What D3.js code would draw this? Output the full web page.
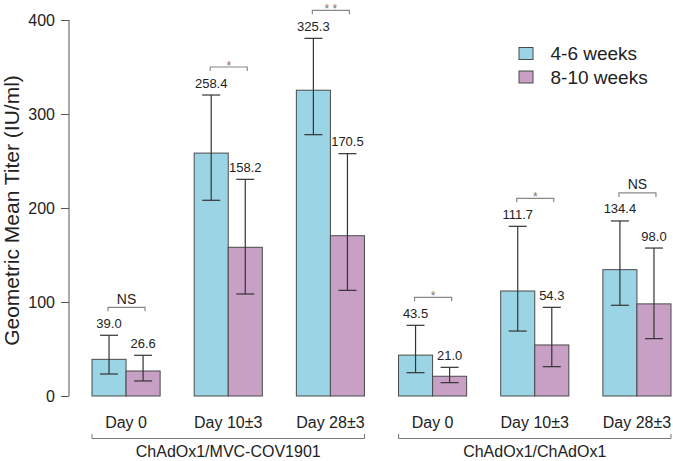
<!DOCTYPE html>
<html>
<head>
<meta charset="utf-8">
<script src="https://cdn.jsdelivr.net/npm/d3@7"></script>
<style>
  html, body { margin: 0; padding: 0; background: #fff; }
  svg { display: block; font-family: "Liberation Sans", Arial, sans-serif; }
</style>
</head>
<body>
<svg id="chart" width="673" height="461"></svg>
<script>
// ---- data ----
const categories = ["Day 0", "Day 10\u00B13", "Day 28\u00B13", "Day 0", "Day 10\u00B13", "Day 28\u00B13"];
const seriesNames = ["4-6 weeks", "8-10 weeks"];
const blueValues = [39.0, 258.4, 325.3, 43.5, 111.7, 134.4];
const purpleValues = [26.6, 158.2, 170.5, 21.0, 54.3, 98.0];
const blueUpper = [64.6, 320.2, 380.5, 75.2, 180.5, 186.2];
const blueLower = [23.4, 208.2, 278.0, 24.8, 69.1, 96.5];
const purpleUpper = [43.3, 230.5, 257.8, 30.5, 94.3, 157.4];
const purpleLower = [16.0, 108.5, 112.4, 14.2, 31.2, 61.0];
const significance = ["NS", "*", "* *", "*", "*", "NS"];
const groupLabels = ["ChAdOx1/MVC-COV1901", "ChAdOx1/ChAdOx1"];
const groupMembers = [[0, 1, 2], [3, 4, 5]];
const yTicks = [0, 100, 200, 300, 400];
const yTitle = "Geometric Mean Titer (IU/ml)";

const colors = ["#9bd5e5", "#c8a0c5"];

// ---- scales ----
const svg = d3.select("#chart");
const y = d3.scaleLinear().domain([0, 400]).range([396, 20]);
const x = d3.scaleBand().domain(d3.range(categories.length)).range([92, 671]).paddingInner(1/3).paddingOuter(0);
const xs = d3.scaleBand().domain([0, 1]).range([0, x.bandwidth()]);

// ---- y axis ----
const yAxis = d3.axisLeft(y).tickValues(yTicks).tickSize(8).tickPadding(6).tickFormat(d3.format("d"));
const yg = svg.append("g").attr("transform", "translate(69,0)").call(yAxis);
yg.select(".domain").attr("stroke", "#555").attr("d", `M0,${y(0)}V${y(400)}`);
yg.selectAll(".tick line").attr("stroke", "#555");
yg.selectAll(".tick text").attr("font-size", 16).attr("fill", "#222")
  .attr("font-family", "Liberation Sans, Arial, sans-serif");

svg.append("text")
  .attr("transform", `translate(19,210.5) rotate(-90)`)
  .attr("text-anchor", "middle")
  .attr("font-size", 21)
  .attr("fill", "#222")
  .text(yTitle);

// ---- bars ----
const series = [
  { vals: blueValues, up: blueUpper, lo: blueLower },
  { vals: purpleValues, up: purpleUpper, lo: purpleLower }
];

series.forEach((s, si) => {
  const g = svg.append("g");
  g.selectAll("rect").data(s.vals).join("rect")
    .attr("x", (d, i) => x(i) + xs(si))
    .attr("y", d => y(d))
    .attr("width", xs.bandwidth())
    .attr("height", d => y(0) - y(d))
    .attr("fill", colors[si])
    .attr("stroke", "#4a4a4a")
    .attr("stroke-width", 1);
});

// ---- error bars + value labels ----
series.forEach((s, si) => {
  const g = svg.append("g").attr("stroke", "#333").attr("stroke-width", 1.2);
  s.vals.forEach((v, i) => {
    const cx = x(i) + xs(si) + xs.bandwidth() / 2;
    g.append("line").attr("x1", cx).attr("x2", cx).attr("y1", y(s.lo[i])).attr("y2", y(s.up[i]));
    g.append("line").attr("x1", cx - 9).attr("x2", cx + 9).attr("y1", y(s.up[i])).attr("y2", y(s.up[i]));
    g.append("line").attr("x1", cx - 9).attr("x2", cx + 9).attr("y1", y(s.lo[i])).attr("y2", y(s.lo[i]));
    svg.append("text")
      .attr("x", cx).attr("y", y(s.up[i]) - 7.5)
      .attr("text-anchor", "middle")
      .attr("font-size", 13)
      .attr("fill", "#222")
      .text(v.toFixed(1));
  });
});

// ---- significance brackets ----
significance.forEach((sig, i) => {
  const c0 = x(i) + xs(0) + xs.bandwidth() / 2;
  const c1 = x(i) + xs(1) + xs.bandwidth() / 2;
  const by = y(Math.max(blueUpper[i], purpleUpper[i])) - 28;
  svg.append("path")
    .attr("d", `M${c0 - 1},${by + 4}V${by}H${c1 + 2}V${by + 4}`)
    .attr("fill", "none").attr("stroke", "#888").attr("stroke-width", 1.2);
  const isNS = sig === "NS";
  svg.append("text")
    .attr("x", (c0 + c1) / 2 + 0.5)
    .attr("y", isNS ? by - 3.5 : by + 3)
    .attr("text-anchor", "middle")
    .attr("font-size", isNS ? 14 : 12)
    .attr("fill", isNS ? "#222" : "#777")
    .text(sig);
});

// ---- x labels ----
categories.forEach((c, i) => {
  svg.append("text")
    .attr("x", x(i) + x.bandwidth() / 2)
    .attr("y", 427.5)
    .attr("text-anchor", "middle")
    .attr("font-size", 16)
    .attr("fill", "#222")
    .text(c);
});

// ---- group brackets ----
groupMembers.forEach((m, gi) => {
  const xa = x(m[0]);
  const xb = x(m[m.length - 1]) + x.bandwidth();
  svg.append("path")
    .attr("d", `M${xa},${434}V${438.5}H${xb}V${434}`)
    .attr("fill", "none").attr("stroke", "#777").attr("stroke-width", 1);
  svg.append("text")
    .attr("x", (xa + xb) / 2)
    .attr("y", 456.5)
    .attr("text-anchor", "middle")
    .attr("font-size", 16)
    .attr("fill", "#222")
    .text(groupLabels[gi]);
});

// ---- legend ----
const lg = svg.append("g");
seriesNames.forEach((n, i) => {
  const ly = 47.5 + i * 23.5;
  lg.append("rect").attr("x", 519).attr("y", ly).attr("width", 14).attr("height", 12)
    .attr("fill", colors[i]).attr("stroke", "#4a4a4a").attr("stroke-width", 1);
  lg.append("text").attr("x", 550.5).attr("y", ly + 12.5)
    .attr("font-size", 19).attr("fill", "#222").text(n);
});
</script>
</body>
</html>
